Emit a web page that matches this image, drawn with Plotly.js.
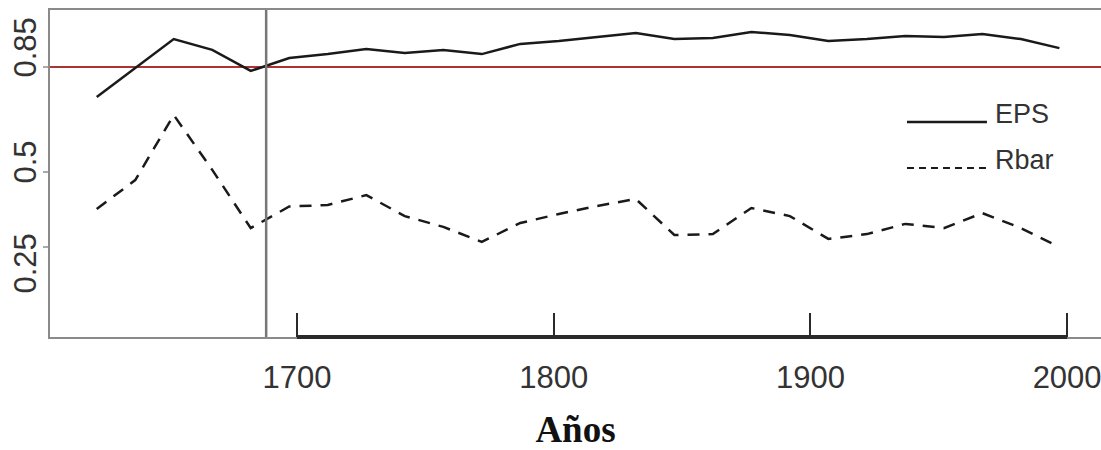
<!DOCTYPE html>
<html>
<head>
<meta charset="utf-8">
<script src="https://cdn.plot.ly/plotly-3.0.1.min.js"></script>
<style>
  html, body { margin: 0; padding: 0; background: #fff; }
  #chart { width: 1101px; height: 450px; }
</style>
</head>
<body>
<div id="chart"></div>
<script>
// ---- data ----
const years = [1622, 1637, 1652, 1667, 1682, 1697, 1712, 1727, 1742, 1757, 1772, 1787, 1802,
               1817, 1832, 1847, 1862, 1877, 1892, 1907, 1922, 1937, 1952, 1967, 1982, 1997];
const eps = [0.750, 0.847, 0.943, 0.907, 0.837, 0.880, 0.893, 0.910, 0.897, 0.907, 0.893, 0.927, 0.937,
             0.950, 0.963, 0.943, 0.947, 0.967, 0.957, 0.937, 0.943, 0.953, 0.950, 0.960, 0.943, 0.913];
const rbar = [0.377, 0.473, 0.690, 0.507, 0.313, 0.385, 0.390, 0.423, 0.353, 0.317, 0.267, 0.330, 0.360,
              0.387, 0.410, 0.290, 0.293, 0.380, 0.353, 0.277, 0.293, 0.327, 0.313, 0.363, 0.313, 0.250];
const seriesNames = ['EPS', 'Rbar'];
const xTickVals = [1700, 1800, 1900, 2000];
const xTickText = ['1700', '1800', '1900', '2000'];
const yTickVals = [0.25, 0.5, 0.85];
const yTickText = ['0.25', '0.5', '0.85'];
const epsThreshold = 0.85;
const thresholdYear = 1688;
const xTitle = 'Años';

// ---- styling ----
const boxGray = '#8a8a8a';
const tickFont = { family: '"Liberation Sans", Arial, sans-serif', size: 31, color: '#333' };
const yLabFont = { family: '"Liberation Sans", Arial, sans-serif', size: 31, color: '#333' };
const legFont = { family: '"Liberation Sans", Arial, sans-serif', size: 27, color: '#333' };
const yLabShift = [-16, 10, 20];

const traces = [
  { x: years, y: eps, name: seriesNames[0], type: 'scatter', mode: 'lines',
    line: { color: '#1a1a1a', width: 2.5, dash: 'solid' }, showlegend: false },
  { x: years, y: rbar, name: seriesNames[1], type: 'scatter', mode: 'lines',
    line: { color: '#1a1a1a', width: 2.5, dash: '12px,9px' }, showlegend: false }
];

const shapes = [
  { type: 'line', xref: 'paper', x0: 0, x1: 1, yref: 'y', y0: epsThreshold, y1: epsThreshold,
    line: { color: '#a83434', width: 2 }, layer: 'below' },
  { type: 'line', xref: 'x', x0: thresholdYear, x1: thresholdYear, yref: 'paper', y0: 0, y1: 1,
    line: { color: '#777', width: 2.5 } },
  { type: 'line', xref: 'x', x0: xTickVals[0], x1: xTickVals[xTickVals.length - 1], yref: 'paper', y0: 0, y1: 0,
    line: { color: '#2a2a2a', width: 4 } },
  { type: 'line', xref: 'paper', x0: 0.8154, x1: 0.8915, yref: 'paper', y0: 0.6575, y1: 0.6575,
    line: { color: '#1a1a1a', width: 2.6, dash: 'solid' } },
  { type: 'line', xref: 'paper', x0: 0.8154, x1: 0.8915, yref: 'paper', y0: 0.5168, y1: 0.5168,
    line: { color: '#1a1a1a', width: 2, dash: '7px,5px' } }
];

const annotations = [];
yTickVals.forEach((v, i) => {
  annotations.push({ xref: 'paper', x: 0, xanchor: 'right', xshift: -6, yref: 'y', y: v, yanchor: 'middle',
    yshift: yLabShift[i], text: yTickText[i], showarrow: false, textangle: -90, font: yLabFont });
});
annotations.push({ xref: 'paper', x: 0.8973, xanchor: 'left', yref: 'paper', y: 0.682, yanchor: 'middle',
  text: seriesNames[0], showarrow: false, font: legFont });
annotations.push({ xref: 'paper', x: 0.8973, xanchor: 'left', yref: 'paper', y: 0.5398, yanchor: 'middle',
  text: seriesNames[1], showarrow: false, font: legFont });

const layout = {
  width: 1101, height: 450,
  margin: { l: 50, r: 0, t: 10, b: 113, pad: 0 },
  paper_bgcolor: '#fff', plot_bgcolor: '#fff',
  xaxis: {
    range: [1603.8, 2013.2], showgrid: false, zeroline: false,
    showline: true, mirror: true, linecolor: boxGray, linewidth: 2,
    tickmode: 'array', tickvals: xTickVals, ticktext: xTickText,
    ticks: 'inside', ticklen: 24, tickwidth: 2, tickcolor: '#2a2a2a',
    tickfont: tickFont, ticklabelstandoff: 12, ticklabeloverflow: 'allow',
    title: { text: xTitle, font: { family: '"Liberation Serif", "Times New Roman", serif', size: 37, color: '#111', weight: 'bold' }, standoff: 23 }
  },
  yaxis: {
    range: [-0.05, 1.04], showgrid: false, zeroline: false,
    showline: true, mirror: true, linecolor: boxGray, linewidth: 2,
    tickmode: 'array', tickvals: yTickVals, ticks: 'outside', ticklen: 5, tickwidth: 1.5, tickcolor: '#aaa',
    showticklabels: false
  },
  shapes: shapes,
  annotations: annotations,
  showlegend: false
};

Plotly.newPlot('chart', traces, layout, { staticPlot: true, displayModeBar: false });
</script>
</body>
</html>
